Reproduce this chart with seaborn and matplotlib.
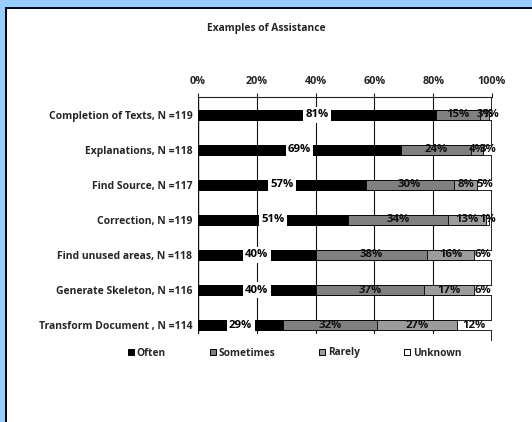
import matplotlib
matplotlib.use("Agg")
import matplotlib.pyplot as plt
from matplotlib.patches import Rectangle
from matplotlib.lines import Line2D
import numpy as np
import pandas as pd
import seaborn as sns

# Survey responses, one row per type of assistance (percent of respondents)
categories = [
    "Completion of Texts, N =119",
    "Explanations, N =118",
    "Find Source, N =117",
    "Correction, N =119",
    "Find unused areas, N =118",
    "Generate Skeleton, N =116",
    "Transform Document , N =114",
]
often = [81, 69, 57, 51, 40, 40, 29]
sometimes = [15, 24, 30, 34, 38, 37, 32]
rarely = [3, 4, 8, 13, 16, 17, 27]
unknown = [1, 3, 5, 1, 6, 6, 12]

series_names = ["Often", "Sometimes", "Rarely", "Unknown"]
series_colors = ["#000000", "#808080", "#9c9c9c", "#ffffff"]
x_ticks = [0, 20, 40, 60, 80, 100]
title = "Examples of Assistance"

sns.set_theme(style="white")
plt.rcParams["font.family"] = ["Open Sans", "DejaVu Sans"]
plt.rcParams["font.weight"] = "bold"

W, H = 532, 422
fig = plt.figure(figsize=(W / 100, H / 100), dpi=100, facecolor="#99CCFF")

# white chart area framed by a dark line, inside the light-blue border
frame = Rectangle((6 / W, -0.05), 1.1, 1 - 8 / H + 0.05, transform=fig.transFigure,
                  facecolor="white", edgecolor="black", linewidth=1.4, zorder=-5)
fig.patches.append(frame)

ax_top, ax_bot = 97, 341
ax_left, ax_right = 198, 492
ax = fig.add_axes([ax_left / W, 1 - ax_bot / H, (ax_right - ax_left) / W, (ax_bot - ax_top) / H])
ax.set_zorder(2)
ax.set_facecolor("none")

df = pd.DataFrame({"category": categories, "Often": often, "Sometimes": sometimes,
                   "Rarely": rarely, "Unknown": unknown})
values = df[series_names].to_numpy(dtype=float)
cum = np.cumsum(values, axis=1)
for i, name in enumerate(series_names):
    df["cum_" + name] = cum[:, i]

# stacked bars: paint cumulative totals from the full bar down to the first segment
for i in reversed(range(len(series_names))):
    sns.barplot(data=df, x="cum_" + series_names[i], y="category", orient="h",
                color=series_colors[i], saturation=1, edgecolor="black", linewidth=0.6,
                width=0.3, ax=ax, zorder=3)

ax.set_ylim(6.457, -0.514)
ax.set_xlim(0, 100)
ax.set_xlabel("")
ax.set_ylabel("")

# gridlines and frame lines
gy = (ax_bot - 333) / (ax_bot - ax_top)
for t in x_ticks[:-1]:
    ax.axvline(t, ymin=gy, ymax=1, color="#111111", linewidth=0.8 if t else 1.0, zorder=1)
ax.axvline(100, ymin=0, ymax=1, color="black", linewidth=1.2, zorder=1)
for s in ["left", "right", "bottom"]:
    ax.spines[s].set_visible(False)
ax.spines["top"].set_visible(True)
ax.spines["top"].set_color("#222222")
ax.spines["top"].set_linewidth(0.8)

ax.xaxis.tick_top()
ax.set_xticks(x_ticks)
ax.set_xticklabels([f"{t}%" for t in x_ticks], fontsize=7.8, fontweight="bold")
ax.tick_params(axis="x", direction="out", length=3, width=0.8, color="#222222", pad=4, top=True, bottom=False)
ax.set_yticks(range(len(categories)))
ax.set_yticklabels(categories, fontsize=7.5, fontweight="bold")
ax.tick_params(axis="y", length=0, pad=4)

# value labels at the middle of each segment
starts = cum - values
for r in range(len(categories)):
    for c in range(len(series_names)):
        v = values[r, c]
        xc = starts[r, c] + v / 2
        if c == 0:
            ax.text(xc, r, f"{int(v)}%", ha="center", va="center", fontsize=8.2,
                    fontweight="bold", color="black", zorder=5,
                    bbox=dict(boxstyle="square,pad=0.2", facecolor="white", edgecolor="none"))
        else:
            ax.text(xc, r, f"{int(v)}%", ha="center", va="center", fontsize=8.2,
                    fontweight="bold", color="#111111", zorder=5)

fig.text(0.5, 1 - 28 / H, title, ha="center", va="center", fontsize=7.4, fontweight="bold")

handles = [Line2D([0], [0], marker="s", linestyle="none", markersize=5,
                  markerfacecolor=col, markeredgecolor="black", markeredgewidth=0.7)
           for col in series_colors]
fig.legend(handles, series_names, loc="center", bbox_to_anchor=(294 / W, 1 - 353 / H),
           ncol=4, frameon=False, handletextpad=0.2, columnspacing=4.2,
           handlelength=0.8, prop={"weight": "bold", "size": 7.3})

fig.savefig("out.png", dpi=100, facecolor=fig.get_facecolor())
